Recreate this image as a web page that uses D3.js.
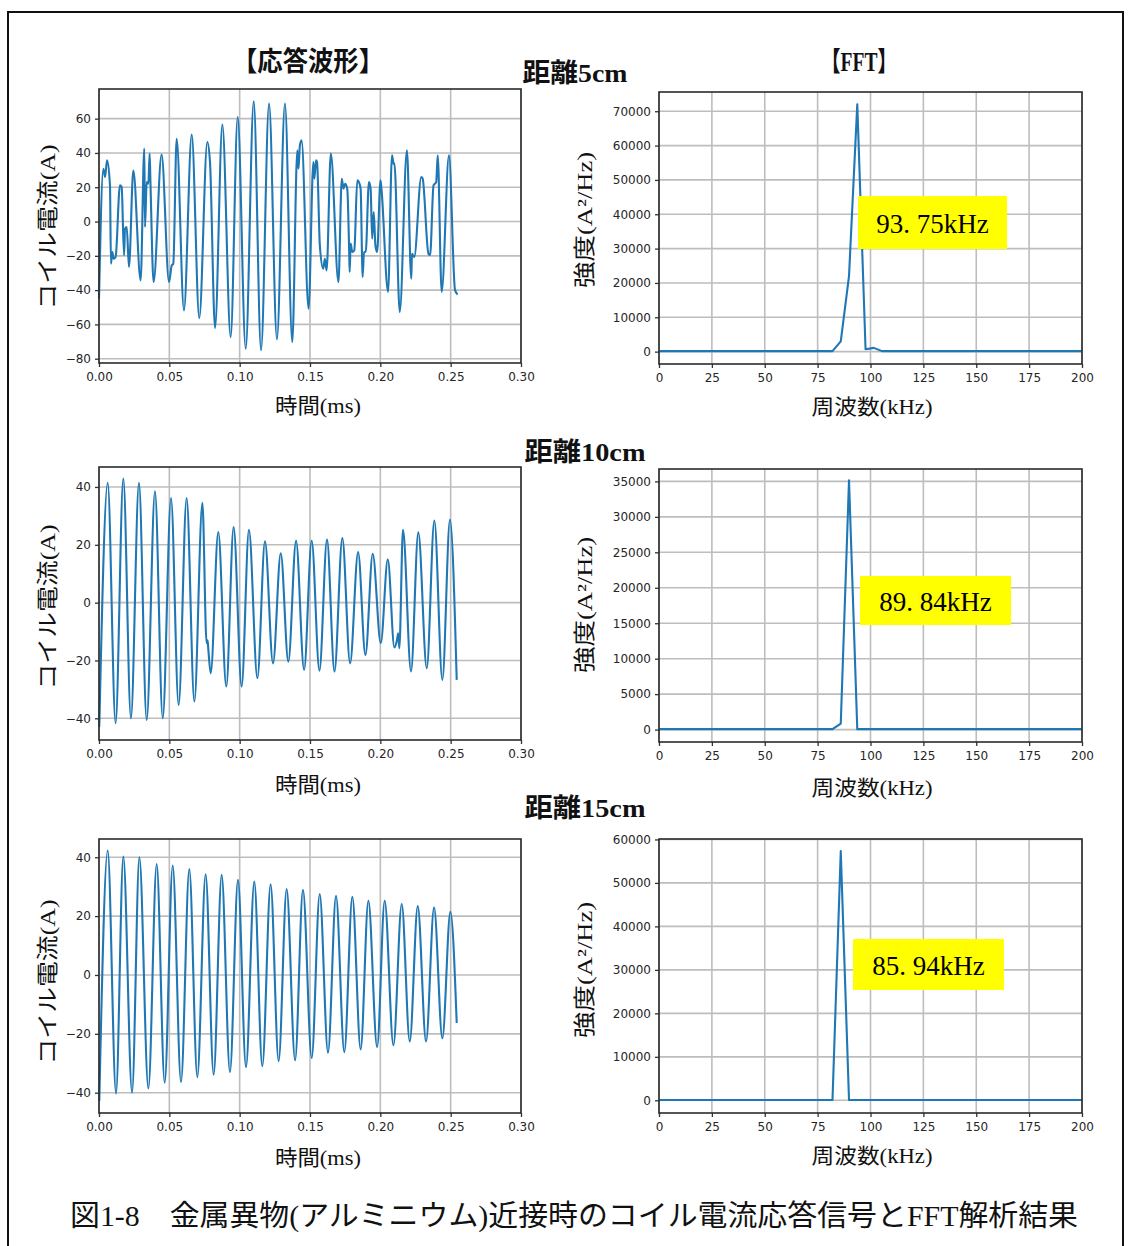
<!DOCTYPE html>
<html>
<head>
<meta charset="utf-8">
<script src="https://cdn.jsdelivr.net/npm/d3@7"></script>
<style>
	body { margin: 0; background: #fff; }
	.tick text { font-family: 'DejaVu Sans', sans-serif; font-size: 12px; fill: #262626; }
</style>
</head>
<body>
<div id="chart"></div>
<script>
// tick values
const timeTicks = [0, 0.05, 0.1, 0.15, 0.2, 0.25, 0.3];
const freqTicks = [0, 25, 50, 75, 100, 125, 150, 175, 200];
const ampTicks5 = [-80, -60, -40, -20, 0, 20, 40, 60];
const ampTicks10 = [-40, -20, 0, 20, 40];
const ampTicks15 = [-40, -20, 0, 20, 40];
const powTicks5 = [0, 10000, 20000, 30000, 40000, 50000, 60000, 70000];
const powTicks10 = [0, 5000, 10000, 15000, 20000, 25000, 30000, 35000];
const powTicks15 = [0, 10000, 20000, 30000, 40000, 50000, 60000];

const distLabels = ['距離5cm', '距離10cm', '距離15cm'];
const peakLabels = ['93. 75kHz', '89. 84kHz', '85. 94kHz'];

// coil current waveforms [time ms, current A] (peaks, troughs, glitches)
const wave5 = [
	[0.0000, -45], [0.0031, 30.8], [0.0043, 26], [0.0057, 35.7], [0.0078, 21.2], [0.0085, -24.6],
	[0.0095, -17.8], [0.0104, -21.7], [0.0118, -20.7], [0.0149, 21.2], [0.0161, 20.2], [0.0178, -19.7],
	[0.0185, -4.2], [0.0197, -3.2], [0.0213, -26.5], [0.0244, 29.8], [0.0296, -34.3], [0.0322, 42.5],
	[0.0327, -3.2], [0.0339, 23.0], [0.0351, 22.1], [0.0360, 39.6], [0.0366, 22], [0.0388, -35.3],
	[0.0445, 39.0], [0.0498, -35.3], [0.0517, -25.6], [0.0528, -24.6], [0.0552, 48.3], [0.0604, -51.8],
	[0.0659, 50.7], [0.0713, -56.3], [0.0770, 46.4], [0.0789, 34.7], [0.0825, -62.1], [0.0877, 56.5],
	[0.0936, -67.4], [0.0986, 61.0], [0.1043, -74.2], [0.1100, 70.1], [0.1152, -75.1], [0.1209, 68.8],
	[0.1265, -68.7], [0.1322, 68.8], [0.1374, -70.3], [0.1410, 41.5], [0.1418, 30.8], [0.1428, 44.4],
	[0.1440, 47.4], [0.1490, -50.8], [0.1524, 34.7], [0.1531, 25], [0.1543, 35.7], [0.1550, 34.7],
	[0.1570, -13.9], [0.1594, -27.5], [0.1606, -21.7], [0.1618, -28.5], [0.1648, 39.6], [0.1702, -35.3],
	[0.1726, 25], [0.1738, 19.2], [0.1750, 22], [0.1765, 19], [0.1778, -15.8], [0.1782, -29.4],
	[0.1789, -12.9], [0.1801, -17.8], [0.1815, -16.8], [0.1836, 24], [0.1848, 23], [0.1860, 19],
	[0.1870, -20.7], [0.1874, -32.4], [0.1884, -17.8], [0.1896, -17.8], [0.1919, 23], [0.1931, 19.2],
	[0.1942, -10], [0.1953, 5.6], [0.1965, -13.9], [0.1977, -17.8], [0.2001, 24], [0.2008, 19],
	[0.2055, -41], [0.2083, 38.6], [0.2095, 33.5], [0.2100, 34], [0.2138, -52.8], [0.2189, 41.5],
	[0.2220, -33.3], [0.2225, -18.8], [0.2241, -20.7], [0.2291, 26], [0.2301, 25], [0.2342, -18.8],
	[0.2354, -19.5], [0.2378, 21.1], [0.2397, 23], [0.2408, 38.6], [0.2436, -41], [0.2488, 38.6],
	[0.2531, -40], [0.2549, -42.5]
];
const wave10 = [
	[0.0002, -42.9], [0.0062, 41.4], [0.0118, -41.7], [0.0173, 42.9], [0.0227, -40.0], [0.0284, 41.4],
	[0.0339, -40.6], [0.0398, 38.5], [0.0453, -40.0], [0.0512, 36.2], [0.0566, -35.4], [0.0623, 36.2],
	[0.0678, -34.2], [0.0735, 34.5], [0.0765, -14], [0.0772, -13], [0.0777, -16], [0.0794, -24.4],
	[0.0848, 24.4], [0.0905, -29.0], [0.0957, 26.1], [0.1014, -29.0], [0.1066, 25.2], [0.1126, -26.1],
	[0.1180, 21.2], [0.1237, -21.0], [0.1292, 17.1], [0.1346, -20.4], [0.1401, 21.4], [0.1458, -23.3],
	[0.1512, 21.4], [0.1567, -23.5], [0.1621, 21.8], [0.1674, -23.8], [0.1730, 22.3], [0.1785, -21.0],
	[0.1842, 17.5], [0.1894, -18.1], [0.1946, 16.9], [0.2003, -14.0], [0.2053, 15.0], [0.2100, -15.5],
	[0.2118, -13], [0.2127, -10.6], [0.2135, -15.8], [0.2161, 25.2], [0.2218, -23.8], [0.2270, 24.3],
	[0.2330, -22.7], [0.2384, 28.4], [0.2441, -26.7], [0.2495, 28.7], [0.2543, -26.7]
];
const wave15 = [
	[0.0002, -42.8], [0.0062, 42.3], [0.0121, -40.3], [0.0173, 40.2], [0.0235, -40.0], [0.0287, 40.0],
	[0.0351, -38.6], [0.0410, 37.7], [0.0467, -36.6], [0.0524, 37.2], [0.0583, -36.4], [0.0642, 36.0],
	[0.0699, -34.7], [0.0758, 34.2], [0.0815, -33.9], [0.0872, 34.0], [0.0931, -33.0], [0.0988, 32.3],
	[0.1045, -31.3], [0.1104, 31.7], [0.1161, -31.0], [0.1220, 30.8], [0.1277, -29.3], [0.1334, 29.2],
	[0.1394, -29.0], [0.1450, 28.9], [0.1512, -28.2], [0.1569, 27.5], [0.1628, -26.4], [0.1685, 26.9],
	[0.1744, -26.2], [0.1801, 26.6], [0.1860, -25.3], [0.1915, 25.2], [0.1977, -24.5], [0.2031, 25.2],
	[0.2093, -23.9], [0.2152, 24.1], [0.2209, -22.6], [0.2266, 23.4], [0.2325, -22.6], [0.2382, 22.9],
	[0.2441, -21.5], [0.2498, 21.5], [0.2543, -16.3]
];

// FFT power spectra (kHz, A^2/Hz)
const fftFreq5 = [0, 82.03, 85.94, 89.84, 93.75, 97.66, 101.56, 105.47, 200];
const fftPow5 = [150, 150, 3000, 22000, 72000, 700, 1100, 150, 150];
const fftFreq10 = [0, 82.03, 85.94, 89.84, 93.75, 200];
const fftPow10 = [60, 60, 850, 35150, 60, 60];
const fftFreq15 = [0, 82.03, 85.94, 89.84, 200];
const fftPow15 = [60, 60, 57300, 60, 60];

const W = 1132, H = 1246;
const blue = '#1f77b4';
const jpFont = "'Liberation Serif', 'Noto Sans CJK JP', serif";

const svg = d3
	.select('#chart')
	.append('svg')
	.attr('width', W)
	.attr('height', H)
	.style('background', '#fff');

// outer frame
svg.append('path')
	.attr('d', `M8,${H} V12 H1123 V${H}`)
	.attr('fill', 'none')
	.attr('stroke', '#111')
	.attr('stroke-width', 2);

const fmtMinus = (d) => (d < 0 ? '\u2212' + Math.abs(d) : String(d));

const panel = (left, top, w, h, xDomain, yDomain, xTicks, yTicks, xFmt, yFmt) => {
	const g = svg.append('g').attr('transform', `translate(${left},${top})`);
	const x = d3.scaleLinear().domain(xDomain).range([0, w]);
	const y = d3.scaleLinear().domain(yDomain).range([h, 0]);
	// grid
	g.selectAll('line.gx')
		.data(xTicks)
		.join('line')
		.attr('class', 'gx')
		.attr('x1', (d) => x(d)).attr('x2', (d) => x(d))
		.attr('y1', 0).attr('y2', h)
		.attr('stroke', '#bdbdbd').attr('stroke-width', 1.6);
	g.selectAll('line.gy')
		.data(yTicks)
		.join('line')
		.attr('class', 'gy')
		.attr('y1', (d) => y(d)).attr('y2', (d) => y(d))
		.attr('x1', 0).attr('x2', w)
		.attr('stroke', '#bdbdbd').attr('stroke-width', 1.6);
	// axes
	const ax = g.append('g')
		.attr('transform', `translate(0,${h})`)
		.call(d3.axisBottom(x).tickValues(xTicks).tickFormat(xFmt).tickSize(4).tickPadding(5));
	const ay = g.append('g')
		.call(d3.axisLeft(y).tickValues(yTicks).tickFormat(yFmt).tickSize(4).tickPadding(4));
	[ax, ay].forEach((a) => {
		a.select('.domain').remove();
		a.selectAll('.tick line').attr('stroke', '#333').attr('stroke-width', 1.3);
	});
	return { g, x, y, w, h };
};

const frame = (p) => {
	p.g.append('rect')
		.attr('width', p.w).attr('height', p.h)
		.attr('fill', 'none')
		.attr('stroke', '#2b2b2b').attr('stroke-width', 1.6);
};

const label = (txt, cx, cy, size, opts = {}) => {
	const t = svg.append('text')
		.attr('x', cx).attr('y', cy)
		.attr('text-anchor', 'middle')
		.attr('dominant-baseline', 'central')
		.style('font-family', jpFont)
		.style('font-size', size + 'px')
		.style('fill', '#111')
		.text(txt);
	if (opts.weight) t.style('font-weight', opts.weight);
	if (opts.len) t.attr('textLength', opts.len).attr('lengthAdjust', 'spacingAndGlyphs');
	if (opts.rotate) t.attr('transform', `rotate(-90,${cx},${cy})`);
	return t;
};

// layout per distance row
const rows = [
	{
		wave: wave5, ampTicks: ampTicks5, ampDomain: [-82.5, 77.3], waveTop: 89, waveH: 274,
		fq: fftFreq5, pw: fftPow5, powTicks: powTicks5, powDomain: [-3600, 75600], fftTop: 92, fftH: 272,
		box: [858, 196, 149, 53], dist: [575, 73, 105], waveXl: 406, fftXl: 407, waveYl: 227, fftYl: 220
	},
	{
		wave: wave10, ampTicks: ampTicks10, ampDomain: [-47.5, 46.9], waveTop: 467, waveH: 273,
		fq: fftFreq10, pw: fftPow10, powTicks: powTicks10, powDomain: [-1750, 36750], fftTop: 469, fftH: 273,
		box: [860, 576, 151, 49], dist: [585, 452, 121], waveXl: 785, fftXl: 788, waveYl: 607, fftYl: 605
	},
	{
		wave: wave15, ampTicks: ampTicks15, ampDomain: [-46.9, 46.2], waveTop: 839, waveH: 274,
		fq: fftFreq15, pw: fftPow15, powTicks: powTicks15, powDomain: [-2920, 60100], fftTop: 839, fftH: 274,
		box: [853, 939, 151, 51], dist: [585, 808, 121], waveXl: 1158, fftXl: 1156, waveYl: 982, fftYl: 970
	}
];

rows.forEach((r, i) => {
	// response waveform
	const pw = panel(99, r.waveTop, 422, r.waveH, [0, 0.3], r.ampDomain, timeTicks, r.ampTicks, d3.format('.2f'), fmtMinus);
	const line = d3.line()
		.x((d) => pw.x(d[0]))
		.y((d) => pw.y(d[1]))
		.curve(d3.curveMonotoneX);
	pw.g.append('path')
		.attr('d', line(r.wave))
		.attr('fill', 'none')
		.attr('stroke', blue)
		.attr('stroke-width', 2.1)
		.attr('stroke-linejoin', 'round');
	frame(pw);

	// FFT spectrum
	const pf = panel(659, r.fftTop, 423, r.fftH, [0, 200], r.powDomain, freqTicks, r.powTicks, d3.format('d'), d3.format('d'));
	const spec = r.fq.map((f, k) => [f, r.pw[k]]);
	const fline = d3.line()
		.x((d) => pf.x(d[0]))
		.y((d) => pf.y(d[1]));
	pf.g.append('path')
		.attr('d', fline(spec))
		.attr('fill', 'none')
		.attr('stroke', blue)
		.attr('stroke-width', 2.1)
		.attr('stroke-linejoin', 'round');
	frame(pf);

	// peak frequency box
	const [bx, by, bw, bh] = r.box;
	svg.append('rect')
		.attr('x', bx).attr('y', by).attr('width', bw).attr('height', bh)
		.attr('fill', '#ffff00');
	svg.append('text')
		.attr('x', bx + bw / 2).attr('y', by + bh / 2 + 1)
		.attr('text-anchor', 'middle')
		.attr('dominant-baseline', 'central')
		.style('font-family', "'Liberation Serif', serif")
		.style('font-size', '27px')
		.style('fill', '#000')
		.text(peakLabels[i]);

	// axis labels
	label('時間(ms)', 318, r.waveXl, 21, { len: 86 });
	label('周波数(kHz)', 872, r.fftXl, 21, { len: 121 });
	label('コイル電流(A)', 47, r.waveYl, 22, { rotate: true, len: 165 });
	label('強度(A²/Hz)', 584, r.fftYl, 22, { rotate: true, len: 136 });

	// distance heading
	label(distLabels[i], r.dist[0], r.dist[1], 26, { weight: 'bold', len: r.dist[2] });
});

// column headings and caption
label('【応答波形】', 308, 62, 27, { weight: 'bold', len: 152 });
label('【FFT】', 859, 62, 27, { weight: 'bold', len: 76 });
label('図1-8\u3000金属異物(アルミニウム)近接時のコイル電流応答信号とFFT解析結果', 574, 1216, 29, { len: 1008 });
</script>
</body>
</html>
